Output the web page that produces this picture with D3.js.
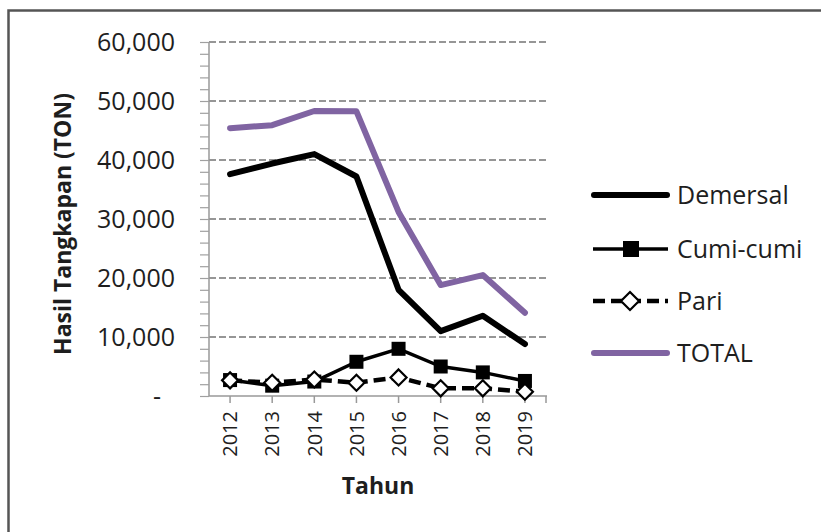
<!DOCTYPE html>
<html><head><meta charset="utf-8">
<script src="https://cdn.jsdelivr.net/npm/d3@7/dist/d3.min.js"></script>
<style>body{margin:0;background:#fff}svg{display:block}text{font-family:"Open Sans",sans-serif;fill:#1e1e1e}</style>
</head><body>
<script>
const years = ["2012","2013","2014","2015","2016","2017","2018","2019"];
const demersal = [37600, 39400, 41000, 37200, 18000, 11000, 13600, 8800];
const cumi = [2700, 1750, 2450, 5800, 8000, 5000, 4000, 2550];
const pari = [2650, 2250, 2800, 2250, 3150, 1300, 1300, 730];
const total = [45400, 45900, 48300, 48250, 31200, 18800, 20500, 14100];
const yTicks = [0, 10000, 20000, 30000, 40000, 50000, 60000];
const seriesNames = ["Demersal", "Cumi-cumi", "Pari", "TOTAL"];

const W = 821, H = 532;
const svg = d3.select("body").append("svg").attr("width", W).attr("height", H);

// frame (only left & top visible)
svg.append("path").attr("d", "M8.5,532 V10.5 H821").attr("fill", "none").attr("stroke", "#555").attr("stroke-width", 2.5);

const x = d3.scaleBand().domain(years).range([209, 546]);
const y = d3.scaleLinear().domain([0, 60000]).range([396, 42]);
const cx = d => x(d) + x.bandwidth() / 2;

// gridlines
svg.append("g").selectAll("line").data(yTicks.filter(v => v > 0)).join("line")
  .attr("x1", 209).attr("x2", 546).attr("y1", d => y(d)).attr("y2", d => y(d))
  .attr("stroke", "#969696").attr("stroke-width", 2).attr("stroke-dasharray", "7,3");

// y axis with minor ticks
const minor = d3.range(0, 60001, 2000);
const gy = svg.append("g").attr("transform", "translate(209,0)")
  .call(d3.axisLeft(y).tickValues(minor).tickSize(9).tickFormat(""));
gy.selectAll("line").attr("stroke", "#a0a0a0").attr("stroke-width", 1.2);
gy.select(".domain").attr("stroke", "#999").attr("stroke-width", 1.5).attr("d", "M0,42V396");

svg.append("g").selectAll("text").data(yTicks).join("text")
  .attr("x", d => d === 0 ? 161 : 175).attr("y", d => y(d)).attr("dy", "0.35em")
  .attr("text-anchor", "end").style("font-size", "25px")
  .text(d => d === 0 ? "-" : d3.format(",")(d));

// x axis
svg.append("line").attr("x1", 209).attr("x2", 547).attr("y1", 396).attr("y2", 396)
  .attr("stroke", "#999").attr("stroke-width", 1.5);
svg.append("g").selectAll("line").data(years.map(cx).concat([546])).join("line")
  .attr("x1", d => d).attr("x2", d => d).attr("y1", 396).attr("y2", 403)
  .attr("stroke", "#999").attr("stroke-width", 1.5);
svg.append("g").selectAll("text").data(years).join("text")
  .attr("transform", d => `translate(${cx(d)},411) rotate(-90)`)
  .attr("dy", "0.36em").attr("text-anchor", "end").style("font-size", "20px")
  .text(d => d);

// axis titles
svg.append("text").attr("transform", "translate(63,224) rotate(-90)")
  .attr("text-anchor", "middle").attr("dy", "0.35em")
  .style("font-size", "23px").style("font-weight", "bold").text("Hasil Tangkapan (TON)");
svg.append("text").attr("x", 378).attr("y", 486).attr("dy", "0.35em")
  .attr("text-anchor", "middle").style("font-size", "23px").style("font-weight", "bold").text("Tahun");

const line = d3.line().x((d, i) => cx(years[i])).y(d => y(d));

// Demersal
svg.append("path").datum(demersal).attr("d", line).attr("fill", "none")
  .attr("stroke", "#000").attr("stroke-width", 6).attr("stroke-linejoin", "round").attr("stroke-linecap", "round");
// Cumi-cumi
svg.append("path").datum(cumi).attr("d", line).attr("fill", "none")
  .attr("stroke", "#000").attr("stroke-width", 3.5).attr("stroke-linejoin", "round");
svg.append("g").selectAll("rect").data(cumi).join("rect")
  .attr("x", (d, i) => cx(years[i]) - 7).attr("y", d => y(d) - 7)
  .attr("width", 14).attr("height", 14).attr("fill", "#000");
// Pari
svg.append("path").datum(pari).attr("d", line).attr("fill", "none")
  .attr("stroke", "#000").attr("stroke-width", 4.5).attr("stroke-dasharray", "12,6");
const diamond = (px, py, r) => `M${px},${py - r}L${px + r},${py}L${px},${py + r}L${px - r},${py}Z`;
svg.append("g").selectAll("path").data(pari).join("path")
  .attr("d", (d, i) => diamond(cx(years[i]), y(d), 8))
  .attr("fill", "#fff").attr("stroke", "#000").attr("stroke-width", 2.2);
// TOTAL
svg.append("path").datum(total).attr("d", line).attr("fill", "none")
  .attr("stroke", "#8064A2").attr("stroke-width", 6).attr("stroke-linejoin", "round").attr("stroke-linecap", "round");

// legend
const ly = [195, 249, 301, 353];
const lg = svg.append("g");
lg.append("line").attr("x1", 594).attr("x2", 667).attr("y1", ly[0]).attr("y2", ly[0])
  .attr("stroke", "#000").attr("stroke-width", 6).attr("stroke-linecap", "round");
lg.append("line").attr("x1", 593).attr("x2", 668).attr("y1", ly[1]).attr("y2", ly[1])
  .attr("stroke", "#000").attr("stroke-width", 3.5);
lg.append("rect").attr("x", 623).attr("y", ly[1] - 8).attr("width", 16).attr("height", 16).attr("fill", "#000");
lg.append("line").attr("x1", 593).attr("x2", 668).attr("y1", ly[2]).attr("y2", ly[2])
  .attr("stroke", "#000").attr("stroke-width", 4.5).attr("stroke-dasharray", "12,6");
lg.append("path").attr("d", diamond(630, ly[2], 9)).attr("fill", "#fff").attr("stroke", "#000").attr("stroke-width", 2.2);
lg.append("line").attr("x1", 594).attr("x2", 667).attr("y1", ly[3]).attr("y2", ly[3])
  .attr("stroke", "#8064A2").attr("stroke-width", 6).attr("stroke-linecap", "round");

lg.selectAll("text.lbl").data(seriesNames).join("text").attr("class", "lbl")
  .attr("x", 677).attr("y", (d, i) => ly[i]).attr("dy", "0.35em")
  .style("font-size", "25px").text(d => d);
</script>
</body></html>
